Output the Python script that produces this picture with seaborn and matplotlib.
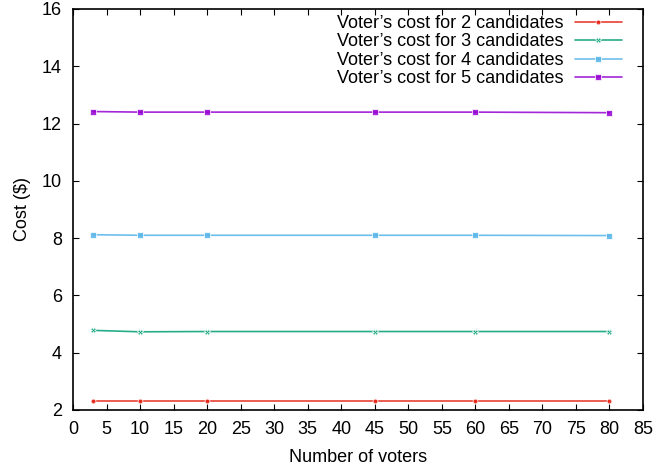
import matplotlib
matplotlib.use("Agg")
import matplotlib.pyplot as plt
import seaborn as sns
import pandas as pd

voters = [3, 10, 20, 45, 60, 80]
cost_2 = [2.30, 2.30, 2.30, 2.30, 2.30, 2.30]
cost_3 = [4.78, 4.73, 4.74, 4.74, 4.74, 4.74]
cost_4 = [8.12, 8.10, 8.10, 8.10, 8.10, 8.09]
cost_5 = [12.42, 12.40, 12.40, 12.40, 12.40, 12.38]
labels = ["Voter\u2019s cost for 2 candidates", "Voter\u2019s cost for 3 candidates",
          "Voter\u2019s cost for 4 candidates", "Voter\u2019s cost for 5 candidates"]
x_ticks = list(range(0, 90, 5))
y_ticks = [2, 4, 6, 8, 10, 12, 14, 16]

sns.set_style("ticks")
plt.rcParams['font.family'] = ['Liberation Sans', 'DejaVu Sans']
plt.rcParams['text.color'] = 'black'
plt.rcParams['axes.labelcolor'] = 'black'

rows = []
for lab, vals in zip(labels, [cost_2, cost_3, cost_4, cost_5]):
    for v, c in zip(voters, vals):
        rows.append({"voters": v, "cost": c, "series": lab})
df = pd.DataFrame(rows)

colors = ["#e51e10", "#009e73", "#56b4e9", "#9400d3"]
markers = ["o", "X", "s", "s"]
msizes = [3.5, 4, 4, 4.5]

fs = 13
fig = plt.figure(figsize=(6.57, 4.67), dpi=100)
ax = fig.add_axes([73/657, 1 - 410/467, (643-73)/657, (410-9)/467])
for lab, col, mk, ms in zip(labels, colors, markers, msizes):
    sub = df[df.series == lab]
    sns.lineplot(data=sub, x="voters", y="cost", ax=ax, color=col, marker=mk,
                 markersize=ms, markeredgewidth=0.6, linewidth=1.2, label=lab,
                 alpha=0.85)

ax.set_xlim(0, 85)
ax.set_ylim(2, 16)
ax.set_xticks(x_ticks)
ax.set_yticks(y_ticks)
ax.tick_params(direction="in", top=True, right=True, length=4, width=0.8,
               labelsize=fs, colors="black")
ax.tick_params(axis="x", pad=8)
ax.tick_params(axis="y", pad=8)
for s in ax.spines.values():
    s.set_linewidth(1.2)
    s.set_color("black")
ax.set_xlabel("Number of voters", fontsize=fs, labelpad=8)
ax.set_ylabel("Cost ($)", fontsize=fs, labelpad=8)
leg = ax.legend(loc="upper right", bbox_to_anchor=(0.963, 0.985), frameon=False,
                markerfirst=False, fontsize=fs, handlelength=2.6, labelspacing=0.08,
                borderaxespad=0.0, handletextpad=0.65, borderpad=0.0)
fig.savefig("out.png", dpi=100)
